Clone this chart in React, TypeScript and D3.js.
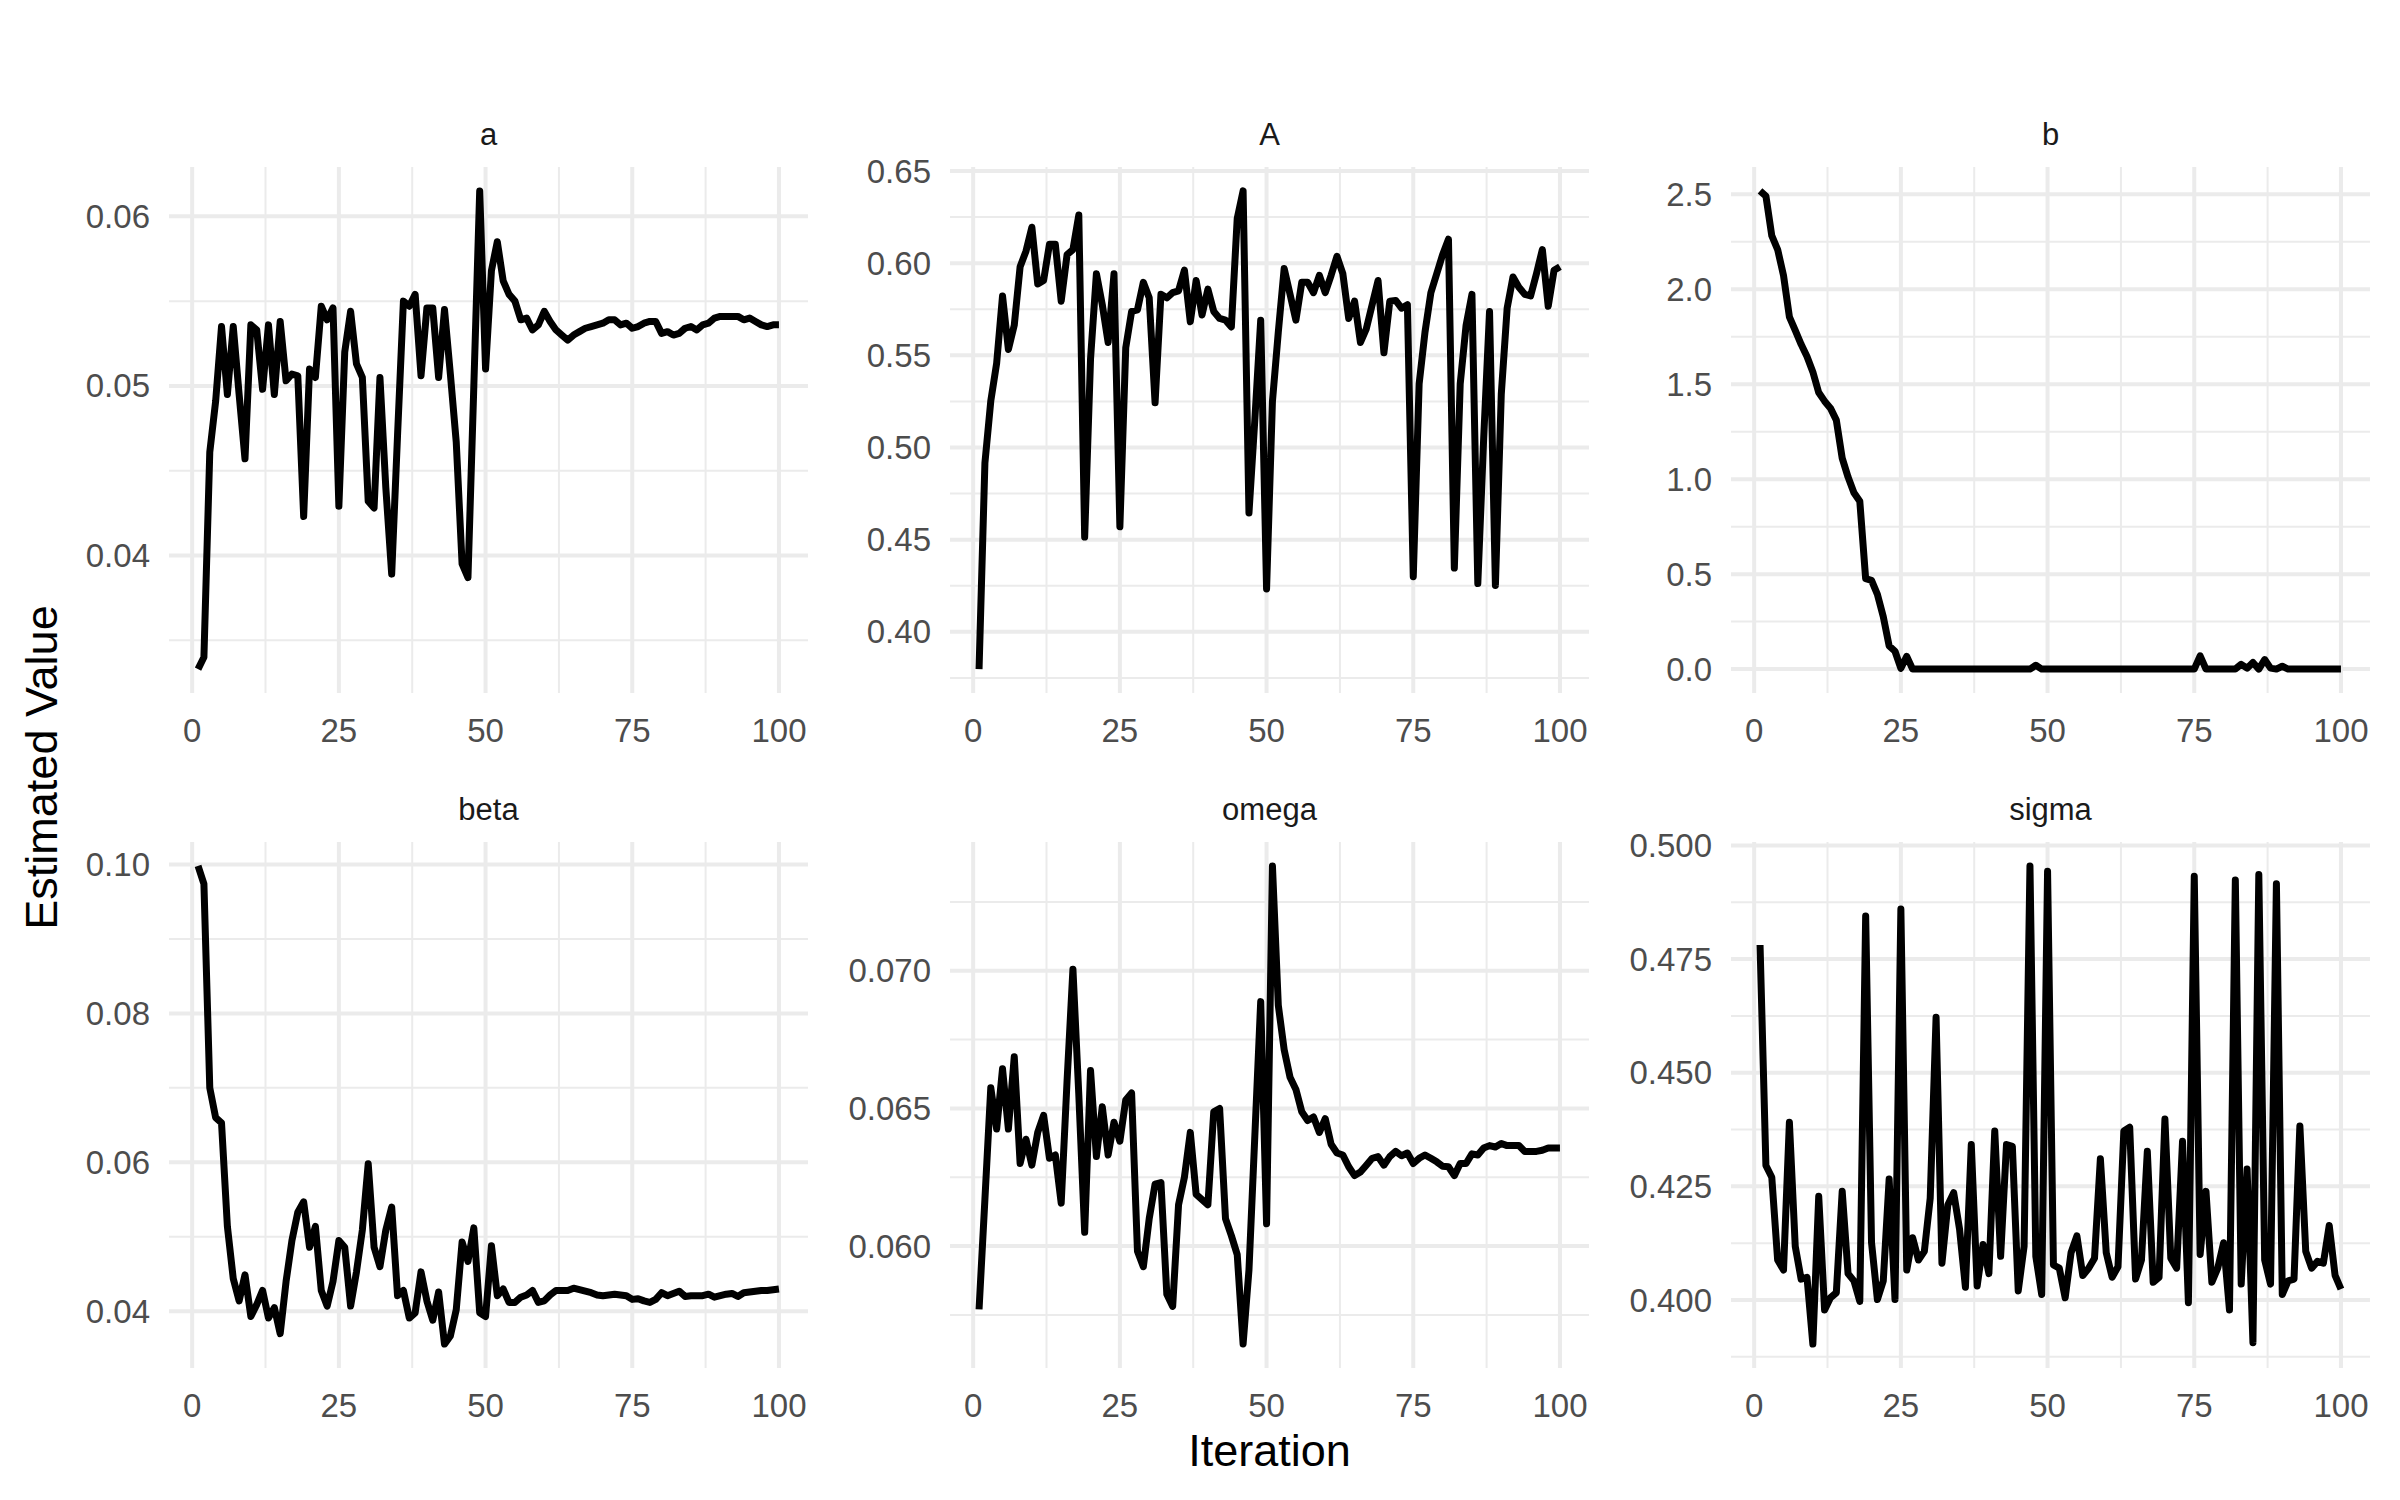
import * as d3 from 'd3'

// iteration index shared by all six panels
const iterations = d3.range(1, 101)

const aVals = [
  0.0333, 0.0340, 0.0461, 0.0491, 0.0535, 0.0495, 0.0535, 0.0495, 0.0457, 0.0536,
  0.0533, 0.0498, 0.0536, 0.0495, 0.0538, 0.0503, 0.0507, 0.0506, 0.0423, 0.0510,
  0.0505, 0.0547, 0.0539, 0.0546, 0.0429, 0.0520, 0.0544, 0.0513, 0.0505, 0.0432,
  0.0428, 0.0505, 0.0440, 0.0389, 0.0471, 0.0550, 0.0547, 0.0554, 0.0506, 0.0546,
  0.0546, 0.0505, 0.0545, 0.0507, 0.0467, 0.0395, 0.0387, 0.0500, 0.0615, 0.0510,
  0.0568, 0.0585, 0.0562, 0.0554, 0.0550, 0.0539, 0.0540, 0.0533, 0.0536, 0.0544,
  0.0538, 0.0533, 0.0530, 0.0527, 0.0530, 0.0532, 0.0534, 0.0535, 0.0536, 0.0537,
  0.0539, 0.0539, 0.0536, 0.0537, 0.0534, 0.0535, 0.0537, 0.0538, 0.0538, 0.0531,
  0.0532, 0.0530, 0.0531, 0.0534, 0.0535, 0.0533, 0.0536, 0.0537, 0.0540, 0.0541,
  0.0541, 0.0541, 0.0541, 0.0539, 0.0540, 0.0538, 0.0536, 0.0535, 0.0536, 0.0536,
]

const bigAVals = [
  0.3798, 0.4916, 0.5252, 0.5457, 0.5822, 0.5532, 0.5663, 0.5981, 0.6065, 0.6195,
  0.5887, 0.5906, 0.6102, 0.6102, 0.5794, 0.6046, 0.6074, 0.6261, 0.4514, 0.5480,
  0.5943, 0.5775, 0.5570, 0.5943, 0.4570, 0.5541, 0.5738, 0.5747, 0.5896, 0.5812,
  0.5243, 0.5831, 0.5812, 0.5840, 0.5850, 0.5962, 0.5682, 0.5906, 0.5719, 0.5859,
  0.5738, 0.5700, 0.5691, 0.5654, 0.6242, 0.6392, 0.4645, 0.5150, 0.5691, 0.4233,
  0.5250, 0.5626, 0.5971, 0.5831, 0.5691, 0.5896, 0.5896, 0.5840, 0.5934, 0.5840,
  0.5934, 0.6037, 0.5943, 0.5700, 0.5794, 0.5570, 0.5644, 0.5775, 0.5906, 0.5514,
  0.5794, 0.5798, 0.5756, 0.5775, 0.4299, 0.5345, 0.5626, 0.5840, 0.5943, 0.6046,
  0.6130, 0.4346, 0.5345, 0.5663, 0.5831, 0.4262, 0.5050, 0.5738, 0.4252, 0.5289,
  0.5756, 0.5925, 0.5869, 0.5831, 0.5822, 0.5943, 0.6074, 0.5766, 0.5962, 0.5981,
]

const bVals = [
  2.518, 2.491, 2.282, 2.209, 2.073, 1.855, 1.783, 1.710, 1.646, 1.565,
  1.456, 1.411, 1.374, 1.311, 1.111, 1.011, 0.929, 0.884, 0.476, 0.467,
  0.394, 0.276, 0.122, 0.094, 0.004, 0.067, 0, 0, 0, 0,
  0, 0, 0, 0, 0, 0, 0, 0, 0, 0,
  0, 0, 0, 0, 0, 0, 0, 0.02, 0, 0,
  0, 0, 0, 0, 0, 0, 0, 0, 0, 0,
  0, 0, 0, 0, 0, 0, 0, 0, 0, 0,
  0, 0, 0, 0, 0, 0.07, 0, 0, 0, 0,
  0, 0, 0.025, 0.005, 0.035, 0, 0.05, 0.005, 0, 0.015,
  0, 0, 0, 0, 0, 0, 0, 0, 0, 0,
]

const betaVals = [
  0.0998, 0.0974, 0.0700, 0.0660, 0.0653, 0.0514, 0.0444, 0.0414, 0.0449, 0.0393,
  0.0409, 0.0428, 0.0391, 0.0405, 0.0370, 0.0440, 0.0495, 0.0533, 0.0547, 0.0486,
  0.0514, 0.0428, 0.0407, 0.0440, 0.0495, 0.0486, 0.0407, 0.0453, 0.0509, 0.0598,
  0.0486, 0.0460, 0.0509, 0.0540, 0.0421, 0.0428, 0.0391, 0.0398, 0.0453, 0.0414,
  0.0388, 0.0426, 0.0356, 0.0367, 0.0402, 0.0493, 0.0467, 0.0512, 0.0398, 0.0393,
  0.0488, 0.0421, 0.0430, 0.0412, 0.0412, 0.0419, 0.0422, 0.0428, 0.0412, 0.0414,
  0.0422, 0.0428, 0.0428, 0.0428, 0.0431, 0.0429, 0.0427, 0.0425, 0.0422, 0.0421,
  0.0422, 0.0423, 0.0422, 0.0421, 0.0416, 0.0417, 0.0414, 0.0412, 0.0416, 0.0425,
  0.0421, 0.0424, 0.0427, 0.0420, 0.0421, 0.0421, 0.0421, 0.0423, 0.0419, 0.0421,
  0.0423, 0.0424, 0.0420, 0.0425, 0.0426, 0.0427, 0.0428, 0.0428, 0.0429, 0.0430,
]

const omegaVals = [
  0.05770, 0.06170, 0.06575, 0.06425, 0.06644, 0.06425, 0.06688, 0.06300, 0.06388, 0.06294,
  0.06413, 0.06475, 0.06319, 0.06331, 0.06156, 0.06600, 0.07006, 0.06550, 0.06050, 0.06638,
  0.06325, 0.06506, 0.06331, 0.06450, 0.06381, 0.06531, 0.06556, 0.05981, 0.05925, 0.06100,
  0.06225, 0.06231, 0.05825, 0.05781, 0.06150, 0.06250, 0.06413, 0.06188, 0.06169, 0.06150,
  0.06488, 0.06500, 0.06100, 0.06038, 0.05969, 0.05644, 0.05913, 0.06400, 0.06888, 0.06081,
  0.07381, 0.06875, 0.06713, 0.06613, 0.06569, 0.06488, 0.06456, 0.06469, 0.06413, 0.06463,
  0.06370, 0.06338, 0.06331, 0.06288, 0.06256, 0.06269, 0.06294, 0.06319, 0.06325, 0.06294,
  0.06325, 0.06344, 0.06328, 0.06338, 0.06300, 0.06319, 0.06331, 0.06319, 0.06306, 0.06290,
  0.06288, 0.06256, 0.06300, 0.06300, 0.06335, 0.06331, 0.06356, 0.06365, 0.06360, 0.06373,
  0.06365, 0.06365, 0.06365, 0.06344, 0.06344, 0.06344, 0.06348, 0.06356, 0.06356, 0.06356,
]

const sigmaVals = [
  0.4781, 0.4296, 0.4270, 0.4088, 0.4066, 0.4391, 0.4118, 0.4046, 0.4050, 0.3903,
  0.4228, 0.3978, 0.4005, 0.4016, 0.4239, 0.4058, 0.4042, 0.3997, 0.4845, 0.4126,
  0.4001, 0.4042, 0.4266, 0.4001, 0.4860, 0.4066, 0.4137, 0.4088, 0.4107, 0.4224,
  0.4622, 0.4081, 0.4209, 0.4236, 0.4156, 0.4028, 0.4342, 0.4031, 0.4122, 0.4058,
  0.4372, 0.4096, 0.4342, 0.4338, 0.4020, 0.4118, 0.4955, 0.4096, 0.4012, 0.4943,
  0.4077, 0.4070, 0.4005, 0.4104, 0.4141, 0.4054, 0.4070, 0.4092, 0.4311, 0.4104,
  0.4050, 0.4073, 0.4372, 0.4380, 0.4046, 0.4088, 0.4327, 0.4039, 0.4050, 0.4398,
  0.4092, 0.4070, 0.4349, 0.3994, 0.4932, 0.4100, 0.4239, 0.4039, 0.4070, 0.4126,
  0.3978, 0.4924, 0.4035, 0.4288, 0.3906, 0.4936, 0.4088, 0.4035, 0.4916, 0.4012,
  0.4042, 0.4046, 0.4383, 0.4107, 0.4070, 0.4085, 0.4081, 0.4164, 0.4054, 0.4024,
]

// tick labels per panel
const xTicks = [0, 25, 50, 75, 100]
const aTicks = [0.04, 0.05, 0.06]
const bigATicks = [0.40, 0.45, 0.50, 0.55, 0.60, 0.65]
const bTicks = [0.0, 0.5, 1.0, 1.5, 2.0, 2.5]
const betaTicks = [0.04, 0.06, 0.08, 0.10]
const omegaTicks = [0.060, 0.065, 0.070]
const sigmaTicks = [0.400, 0.425, 0.450, 0.475, 0.500]

const panels = [
  { name: 'a', values: aVals, ticks: aTicks, digits: 2 },
  { name: 'A', values: bigAVals, ticks: bigATicks, digits: 2 },
  { name: 'b', values: bVals, ticks: bTicks, digits: 1 },
  { name: 'beta', values: betaVals, ticks: betaTicks, digits: 2 },
  { name: 'omega', values: omegaVals, ticks: omegaTicks, digits: 3 },
  { name: 'sigma', values: sigmaVals, ticks: sigmaTicks, digits: 3 },
]

const W = 2400
const H = 1500
const colLeft = [169, 950, 1731]
const rowTop = [167, 842]
const PW = 639
const PH = 526
const FONT = '"Liberation Sans", Arial, Helvetica, sans-serif'
const GRID = '#EBEBEB'

function expand(ext: [number, number]): [number, number] {
  const pad = (ext[1] - ext[0]) * 0.05
  return [ext[0] - pad, ext[1] + pad]
}

function minorsFor(ticks: number[], domain: [number, number]) {
  const step = ticks[1] - ticks[0]
  const out: number[] = []
  for (let i = -1; i < ticks.length; i++) {
    const m = ticks[0] + step * (i + 0.5)
    if (m >= domain[0] && m <= domain[1]) out.push(m)
  }
  return out
}

function Panel({ p, col, row }: { p: typeof panels[number]; col: number; row: number }) {
  const left = colLeft[col]
  const top = rowTop[row]
  const xDom = expand(d3.extent(iterations) as [number, number])
  const yDom = expand(d3.extent(p.values) as [number, number])
  const x = d3.scaleLinear().domain(xDom).range([left, left + PW])
  const y = d3.scaleLinear().domain(yDom).range([top + PH, top])
  const line = d3.line<number>().x((_, i) => x(iterations[i])).y(d => y(d))
  const xMinor = minorsFor(xTicks, xDom)
  const yMinor = minorsFor(p.ticks, yDom)
  const yMajor = p.ticks.filter(t => t >= yDom[0] && t <= yDom[1])

  return (
    <g>
      {yMinor.map(t => (
        <line key={'ym' + t} x1={left} x2={left + PW} y1={y(t)} y2={y(t)} stroke={GRID} strokeWidth={2} />
      ))}
      {xMinor.map(t => (
        <line key={'xm' + t} x1={x(t)} x2={x(t)} y1={top} y2={top + PH} stroke={GRID} strokeWidth={2} />
      ))}
      {yMajor.map(t => (
        <line key={'yM' + t} x1={left} x2={left + PW} y1={y(t)} y2={y(t)} stroke={GRID} strokeWidth={4} />
      ))}
      {xTicks.map(t => (
        <line key={'xM' + t} x1={x(t)} x2={x(t)} y1={top} y2={top + PH} stroke={GRID} strokeWidth={4} />
      ))}
      <path d={line(p.values) || ''} fill="none" stroke="#000" strokeWidth={7} strokeLinejoin="round" />
      {yMajor.map(t => (
        <text key={'yl' + t} x={left - 19} y={y(t)} dy="0.35em" textAnchor="end"
          fontSize={33} fill="#4D4D4D" fontFamily={FONT}>{t.toFixed(p.digits)}</text>
      ))}
      {xTicks.map(t => (
        <text key={'xl' + t} x={x(t)} y={top + PH + 37} dy="0.35em" textAnchor="middle"
          fontSize={33} fill="#4D4D4D" fontFamily={FONT}>{t}</text>
      ))}
      <text x={left + PW / 2} y={top - 33} dy="0.35em" textAnchor="middle"
        fontSize={31} fill="#1A1A1A" fontFamily={FONT}>{p.name}</text>
    </g>
  )
}

export default function App() {
  return (
    <svg width={W} height={H} viewBox={`0 0 ${W} ${H}`}
      style={{ position: 'absolute', left: 0, top: 0, background: '#fff', display: 'block' }}>
      <rect width={W} height={H} fill="#fff" />
      {panels.map((p, i) => (
        <Panel key={p.name} p={p} col={i % 3} row={Math.floor(i / 3)} />
      ))}
      <text x={(colLeft[0] + colLeft[2] + PW) / 2} y={1450} dy="0.35em" textAnchor="middle"
        fontSize={45} fill="#000" fontFamily={FONT}>Iteration</text>
      <text transform={`translate(41,${(rowTop[0] + rowTop[1] + PH) / 2}) rotate(-90)`} dy="0.35em"
        textAnchor="middle" fontSize={45} fill="#000" fontFamily={FONT}>Estimated Value</text>
    </svg>
  )
}
